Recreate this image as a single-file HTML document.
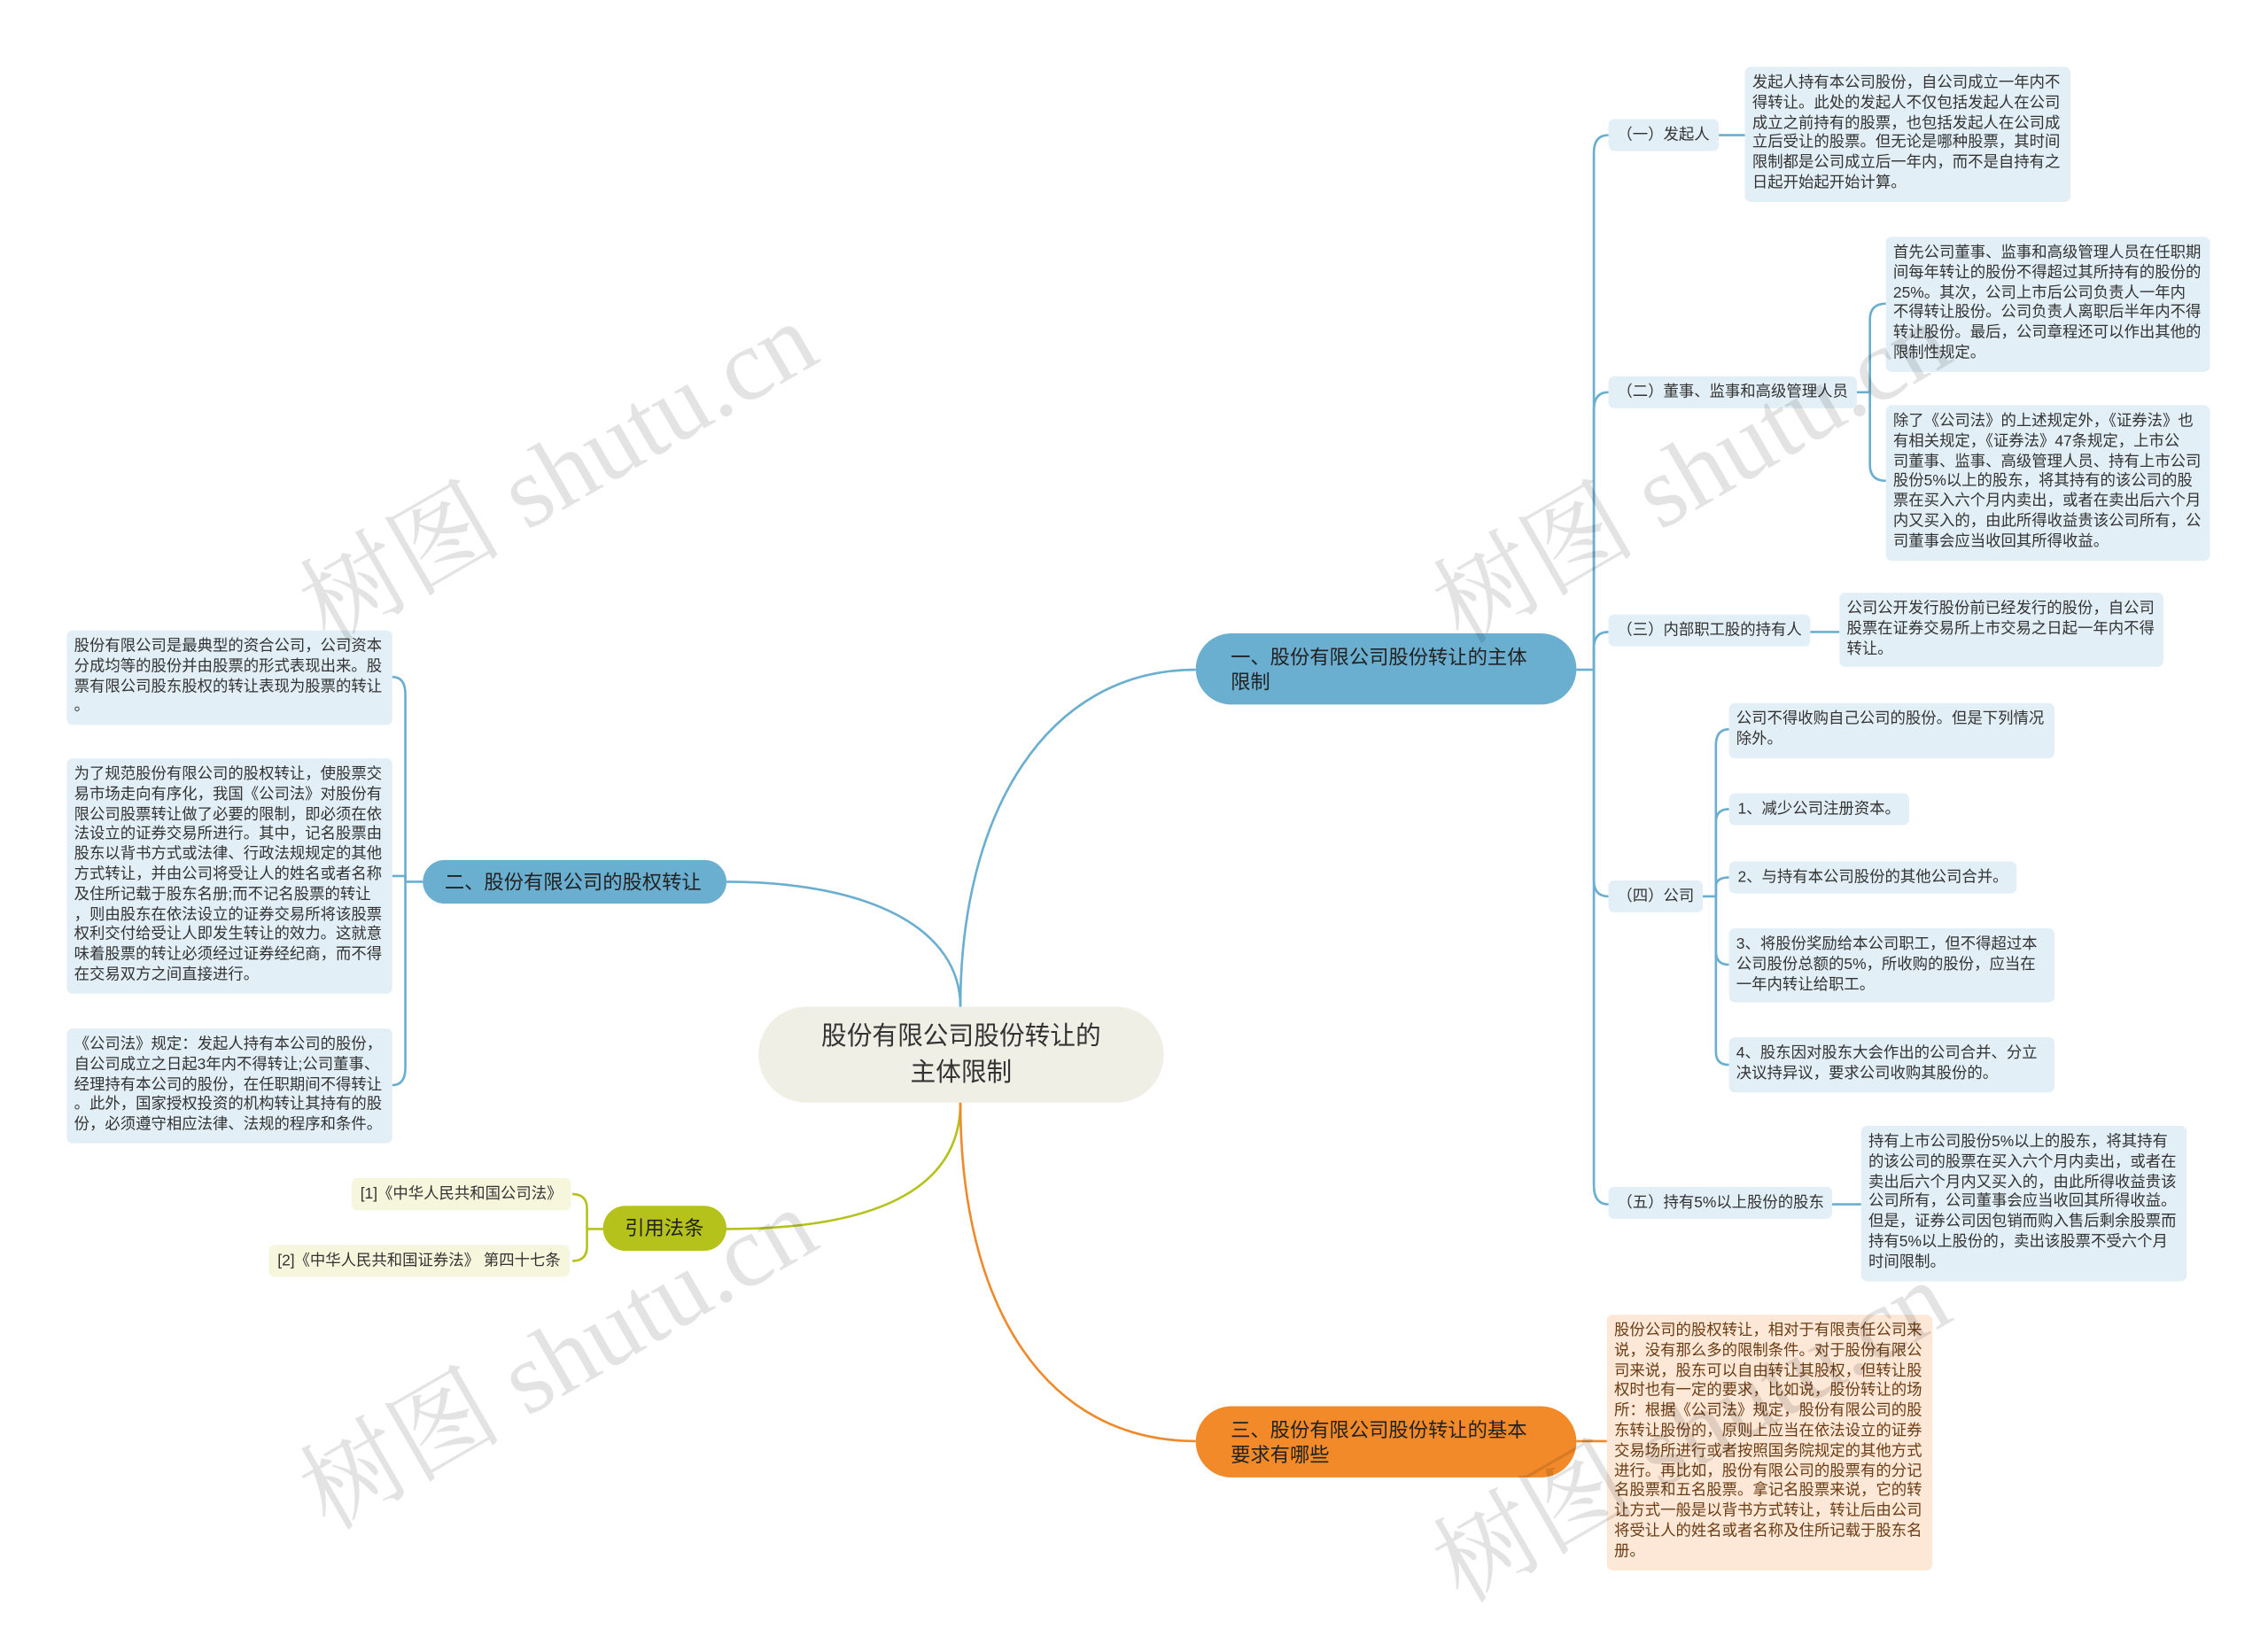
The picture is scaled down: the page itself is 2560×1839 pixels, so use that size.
<!DOCTYPE html>
<html><head><meta charset="utf-8"><style>
html,body{margin:0;padding:0;background:#fff;}
#wrap{position:relative;width:2560px;height:1839px;overflow:hidden;}
#s{position:absolute;left:0;top:0;width:1561px;height:1121px;transform:scale(1.64);transform-origin:0 0;font-family:"Liberation Sans","Noto Sans CJK SC",sans-serif;}
.n{position:absolute;box-sizing:border-box;white-space:nowrap;}
.t{background:#e2eff6;border-radius:4px;font-size:10.6px;line-height:13.8px;color:#333;padding:5px 5px;}
.l{background:#e2eff6;border-radius:4px;font-size:10.6px;line-height:14px;color:#333;padding:4px 6px;}
.b{background:#6aaed0;color:#222;font-size:13.6px;line-height:17px;border-radius:25px;padding:0 24px;display:flex;align-items:center;}
.o{background:#fde7d6;color:#6b3d14;border-radius:4px;font-size:10.6px;line-height:13.8px;padding:5px 5px;}
.r{background:#f6f6dd;color:#333;border-radius:4px;font-size:10.6px;line-height:14px;padding:4px 6px;}
.wm{position:absolute;font-family:"Liberation Serif","Noto Serif CJK SC",serif;font-size:70px;color:rgba(0,0,0,0.11);transform:rotate(-30deg);white-space:nowrap;transform-origin:center;}
</style></head><body><div id="wrap"><div id="s">
<svg width="1561" height="1121" style="position:absolute;left:0;top:0" fill="none" stroke-width="1.6">
<g stroke="#6aaed0">
<path d="M661 693 C661 560 720 461 823 461"/>
<path d="M661 693 C661 640 600 607 500 607"/>
<path d="M1085 461 H1097"/>
<path d="M1097 461 V105 Q1097 93 1107 93"/>
<path d="M1097 461 V282 Q1097 270 1107 270"/>
<path d="M1097 461 V446 Q1097 435 1107 435"/>
<path d="M1097 461 V606 Q1097 617 1107 617"/>
<path d="M1097 461 V816 Q1097 829 1107 829"/>
<path d="M1180 93 H1201"/>
<path d="M1277 270 H1287"/>
<path d="M1287 270 V220 Q1287 209 1298 209"/>
<path d="M1287 270 V320 Q1287 331 1298 331"/>
<path d="M1243 435 H1266"/>
<path d="M1170 617 H1181"/>
<path d="M1181 617 V513 Q1181 502 1190 502"/>
<path d="M1181 617 V566 Q1181 557 1190 557"/>
<path d="M1181 617 V610 Q1181 604 1190 604"/>
<path d="M1181 617 V655 Q1181 664 1190 664"/>
<path d="M1181 617 V724 Q1181 733 1190 733"/>
<path d="M1260 829 H1281"/>
<path d="M291 607 H279"/>
<path d="M279 607 V478 Q279 466 270 466"/>
<path d="M279 607 V603 H270"/>
<path d="M279 607 V735 Q279 747 270 747"/>
</g>
<g stroke="#b5c21c">
<path d="M661 759 C661 820 600 846 500 846"/>
<path d="M415 846 H404"/>
<path d="M404 846 V832 Q404 822 394 822"/>
<path d="M404 846 V858 Q404 868 394 868"/>
</g>
<g stroke="#ee8a2c">
<path d="M661 759 C661 900 720 992 823 992"/>
<path d="M1085 992 H1106"/>
</g>
</svg>

<div class="n" style="left:522px;top:693px;width:279px;height:66px;background:#efefe6;border-radius:33px;font-size:17.5px;line-height:25px;color:#333;text-align:center;padding-top:8px;">股份有限公司股份转让的<br>主体限制</div>

<div class="n b" style="left:823px;top:436px;width:262px;height:49px;">一、股份有限公司股份转让的主体<br>限制</div>
<div class="n b" style="left:291px;top:592px;width:209px;height:30px;padding:0 15px;">二、股份有限公司的股权转让</div>
<div class="n b" style="left:415px;top:830px;width:85px;height:31px;background:#b5c21c;padding:0 15px;">引用法条</div>
<div class="n b" style="left:823px;top:968px;width:262px;height:49px;background:#f28a2a;">三、股份有限公司股份转让的基本<br>要求有哪些</div>

<div class="n l" style="left:1107px;top:82px;">（一）发起人</div>
<div class="n t" style="left:1201px;top:46px;width:224px;">发起人持有本公司股份，自公司成立一年内不<br>得转让。此处的发起人不仅包括发起人在公司<br>成立之前持有的股票，也包括发起人在公司成<br>立后受让的股票。但无论是哪种股票，其时间<br>限制都是公司成立后一年内，而不是自持有之<br>日起开始起开始计算。</div>

<div class="n l" style="left:1107px;top:259px;">（二）董事、监事和高级管理人员</div>
<div class="n t" style="left:1298px;top:163px;width:223px;">首先公司董事、监事和高级管理人员在任职期<br>间每年转让的股份不得超过其所持有的股份的<br>25%。其次，公司上市后公司负责人一年内<br>不得转让股份。公司负责人离职后半年内不得<br>转让股份。最后，公司章程还可以作出其他的<br>限制性规定。</div>
<div class="n t" style="left:1298px;top:279px;width:223px;">除了《公司法》的上述规定外，《证券法》也<br>有相关规定，《证券法》47条规定，上市公<br>司董事、监事、高级管理人员、持有上市公司<br>股份5%以上的股东，将其持有的该公司的股<br>票在买入六个月内卖出，或者在卖出后六个月<br>内又买入的，由此所得收益贵该公司所有，公<br>司董事会应当收回其所得收益。</div>

<div class="n l" style="left:1107px;top:423px;">（三）内部职工股的持有人</div>
<div class="n t" style="left:1266px;top:408px;width:223px;">公司公开发行股份前已经发行的股份，自公司<br>股票在证券交易所上市交易之日起一年内不得<br>转让。</div>

<div class="n l" style="left:1107px;top:606px;">（四）公司</div>
<div class="n t" style="left:1190px;top:484px;width:224px;">公司不得收购自己公司的股份。但是下列情况<br>除外。</div>
<div class="n l" style="left:1190px;top:546px;">1、减少公司注册资本。</div>
<div class="n l" style="left:1190px;top:593px;">2、与持有本公司股份的其他公司合并。</div>
<div class="n t" style="left:1190px;top:639px;width:224px;">3、将股份奖励给本公司职工，但不得超过本<br>公司股份总额的5%，所收购的股份，应当在<br>一年内转让给职工。</div>
<div class="n t" style="left:1190px;top:714px;width:224px;">4、股东因对股东大会作出的公司合并、分立<br>决议持异议，要求公司收购其股份的。</div>

<div class="n l" style="left:1107px;top:817px;">（五）持有5%以上股份的股东</div>
<div class="n t" style="left:1281px;top:775px;width:224px;">持有上市公司股份5%以上的股东，将其持有<br>的该公司的股票在买入六个月内卖出，或者在<br>卖出后六个月内又买入的，由此所得收益贵该<br>公司所有，公司董事会应当收回其所得收益。<br>但是，证券公司因包销而购入售后剩余股票而<br>持有5%以上股份的，卖出该股票不受六个月<br>时间限制。</div>

<div class="n o" style="left:1106px;top:905px;width:224px;">股份公司的股权转让，相对于有限责任公司来<br>说，没有那么多的限制条件。对于股份有限公<br>司来说，股东可以自由转让其股权，但转让股<br>权时也有一定的要求，比如说，股份转让的场<br>所：根据《公司法》规定，股份有限公司的股<br>东转让股份的，原则上应当在依法设立的证券<br>交易场所进行或者按照国务院规定的其他方式<br>进行。再比如，股份有限公司的股票有的分记<br>名股票和五名股票。拿记名股票来说，它的转<br>让方式一般是以背书方式转让，转让后由公司<br>将受让人的姓名或者名称及住所记载于股东名<br>册。</div>

<div class="n t" style="left:46px;top:434px;width:224px;">股份有限公司是最典型的资合公司，公司资本<br>分成均等的股份并由股票的形式表现出来。股<br>票有限公司股东股权的转让表现为股票的转让<br>。</div>
<div class="n t" style="left:46px;top:522px;width:224px;">为了规范股份有限公司的股权转让，使股票交<br>易市场走向有序化，我国《公司法》对股份有<br>限公司股票转让做了必要的限制，即必须在依<br>法设立的证券交易所进行。其中，记名股票由<br>股东以背书方式或法律、行政法规规定的其他<br>方式转让，并由公司将受让人的姓名或者名称<br>及住所记载于股东名册;而不记名股票的转让<br>，则由股东在依法设立的证券交易所将该股票<br>权利交付给受让人即发生转让的效力。这就意<br>味着股票的转让必须经过证券经纪商，而不得<br>在交易双方之间直接进行。</div>
<div class="n t" style="left:46px;top:708px;width:224px;">《公司法》规定：发起人持有本公司的股份，<br>自公司成立之日起3年内不得转让;公司董事、<br>经理持有本公司的股份，在任职期间不得转让<br>。此外，国家授权投资的机构转让其持有的股<br>份，必须遵守相应法律、法规的程序和条件。</div>

<div class="n r" style="left:242px;top:811px;">[1]《中华人民共和国公司法》</div>
<div class="n r" style="left:185px;top:857px;">[2]《中华人民共和国证券法》 第四十七条</div>

<div class="wm" style="left:185px;top:270px;">树图 shutu.cn</div>
<div class="wm" style="left:965px;top:270px;">树图 shutu.cn</div>
<div class="wm" style="left:185px;top:880px;">树图 shutu.cn</div>
<div class="wm" style="left:965px;top:930px;">树图 shutu.cn</div>
</div></div></body></html>
